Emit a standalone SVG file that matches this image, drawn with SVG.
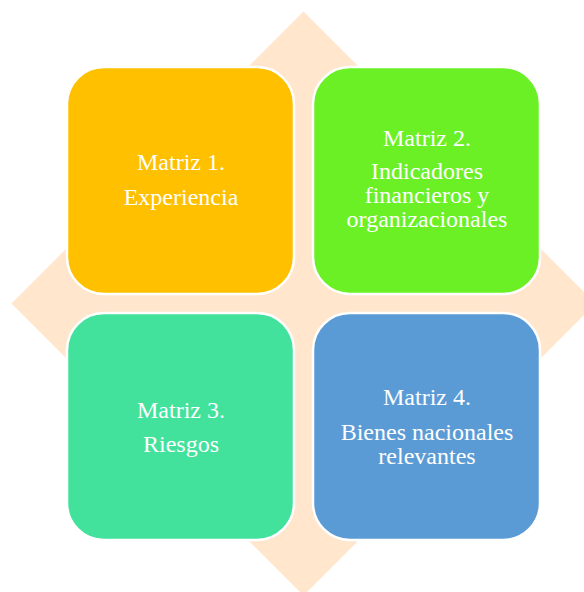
<svg xmlns="http://www.w3.org/2000/svg" width="584" height="592" viewBox="0 0 584 592">
  <style>
    .box { stroke: #ffffff; stroke-width: 2.5; }
    .lbl { font-family: "Liberation Serif", "Times New Roman", serif; font-size: 24px; fill: #ffffff; text-anchor: middle; }
  </style>
  <rect width="584" height="592" fill="#ffffff"/>
  <g id="background">
    <polygon points="303.5,11.5 595.5,303.5 303.5,595.5 11.5,303.5" fill="#FFE6CC"/>
  </g>
  <g id="connectors"></g>
  <g id="matriz1">
    <rect class="box" x="67" y="67" width="227" height="227" rx="37" ry="37" fill="#FFC000"/>
    <text class="lbl" x="181" y="170">Matriz 1.</text>
    <text class="lbl" x="181" y="205">Experiencia</text>
  </g>
  <g id="matriz2">
    <rect class="box" x="313" y="67" width="227" height="227" rx="37" ry="37" fill="#6BF026"/>
    <text class="lbl" x="427" y="146">Matriz 2.</text>
    <text class="lbl" x="427" y="179">Indicadores</text>
    <text class="lbl" x="427" y="203">financieros y</text>
    <text class="lbl" x="427" y="227">organizacionales</text>
  </g>
  <g id="matriz3">
    <rect class="box" x="67" y="313" width="227" height="227" rx="37" ry="37" fill="#42E29C"/>
    <text class="lbl" x="181" y="418">Matriz 3.</text>
    <text class="lbl" x="181" y="452">Riesgos</text>
  </g>
  <g id="matriz4">
    <rect class="box" x="313" y="313" width="227" height="227" rx="37" ry="37" fill="#5B9BD5"/>
    <text class="lbl" x="427" y="405">Matriz 4.</text>
    <text class="lbl" x="427" y="440">Bienes nacionales</text>
    <text class="lbl" x="427" y="464">relevantes</text>
  </g>
</svg>
